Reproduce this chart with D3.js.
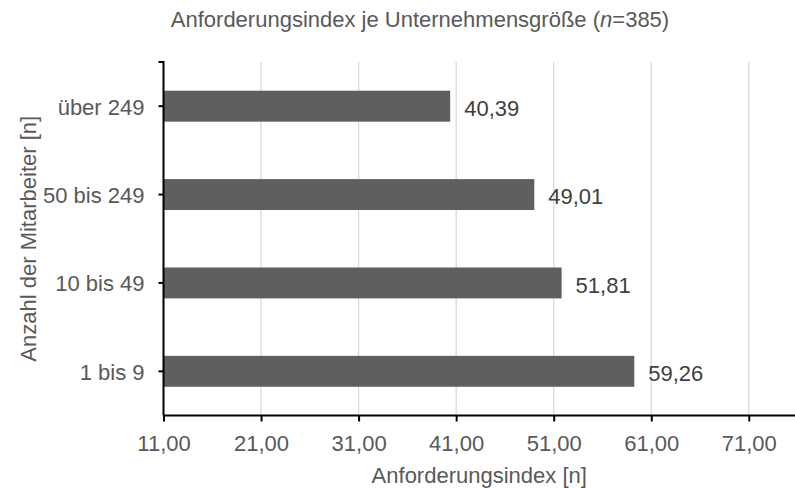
<!DOCTYPE html>
<html>
<head>
<meta charset="utf-8">
<script src="https://cdn.jsdelivr.net/npm/d3@7"></script>
<style>
  html, body { margin: 0; padding: 0; background: #fff; }
  svg { display: block; font-family: "Liberation Sans", Arial, sans-serif; }
</style>
</head>
<body>
<svg id="chart" width="795" height="488"></svg>
<script>
// Anforderungsindex je Unternehmensgröße
const categories = ["über 249", "50 bis 249", "10 bis 49", "1 bis 9"];
const values = [40.39, 49.01, 51.81, 59.26];
const xTicks = [11, 21, 31, 41, 51, 61, 71];
const xDomain = [11, 81];

const width = 795, height = 488;
const plot = { left: 163.5, top: 62, bottom: 415.5 };
const textGrey = "#595959";
const fmt = v => d3.format(".2f")(v).replace(".", ",");

const svg = d3.select("#chart");

const x = d3.scaleLinear().domain(xDomain).range([plot.left, plot.left + 70 * 9.755]);
const y = d3.scaleBand().domain(categories)
  .range([plot.top, plot.bottom])
  .paddingInner(0.65).paddingOuter(0.325);

// vertical gridlines
svg.append("g").selectAll("line")
  .data(xTicks.slice(1))
  .join("line")
  .attr("x1", d => x(d)).attr("x2", d => x(d))
  .attr("y1", plot.top).attr("y2", plot.bottom)
  .attr("stroke", "#d9d9d9").attr("stroke-width", 1.3);

// bars
svg.append("g").selectAll("rect")
  .data(values)
  .join("rect")
  .attr("x", x(xDomain[0]))
  .attr("y", (d, i) => y(categories[i]))
  .attr("width", d => x(d) - x(xDomain[0]))
  .attr("height", y.bandwidth())
  .attr("fill", "#5f5f5f");

// value labels
svg.append("g").selectAll("text")
  .data(values)
  .join("text")
  .attr("x", d => x(d) + 14)
  .attr("y", (d, i) => y(categories[i]) + y.bandwidth() / 2)
  .attr("dy", "0.45em")
  .attr("font-size", 22)
  .attr("fill", "#404040")
  .text(d => fmt(d));

// x axis
const xAxis = svg.append("g")
  .attr("transform", `translate(0,${plot.bottom})`)
  .call(d3.axisBottom(x).tickValues(xTicks).tickFormat(fmt).tickSize(6).tickPadding(14));
xAxis.select(".domain").attr("stroke", "#000").attr("stroke-width", 2)
  .attr("d", `M${plot.left},0H${width}`);
xAxis.selectAll(".tick line").attr("stroke", "#000").attr("stroke-width", 2);
xAxis.selectAll(".tick text").attr("font-size", 22).attr("fill", textGrey)
  .attr("font-family", "Liberation Sans, Arial, sans-serif");

// y axis
const yAxis = svg.append("g")
  .attr("transform", `translate(${plot.left},0)`)
  .call(d3.axisLeft(y).tickSize(5).tickPadding(14));
yAxis.select(".domain").attr("stroke", "#000").attr("stroke-width", 2)
  .attr("d", `M-5,${plot.top}H0V${plot.bottom}`);
yAxis.selectAll(".tick line").attr("stroke", "#000").attr("stroke-width", 2);
yAxis.selectAll(".tick text").attr("font-size", 22).attr("fill", textGrey)
  .attr("dy", "0.38em")
  .attr("font-family", "Liberation Sans, Arial, sans-serif");

// axis titles
svg.append("text")
  .attr("x", (plot.left + width) / 2).attr("y", 483)
  .attr("text-anchor", "middle")
  .attr("font-size", 22).attr("fill", textGrey)
  .text("Anforderungsindex [n]");

svg.append("text")
  .attr("transform", `translate(36,${(plot.top + plot.bottom) / 2}) rotate(-90)`)
  .attr("text-anchor", "middle")
  .attr("font-size", 22).attr("fill", textGrey)
  .text("Anzahl der Mitarbeiter [n]");

// chart title
const title = svg.append("text")
  .attr("x", 420).attr("y", 27)
  .attr("text-anchor", "middle")
  .attr("font-size", 22).attr("fill", textGrey);
title.append("tspan").text("Anforderungsindex je Unternehmensgröße (");
title.append("tspan").attr("font-style", "italic").text("n");
title.append("tspan").text("=385)");
</script>
</body>
</html>
